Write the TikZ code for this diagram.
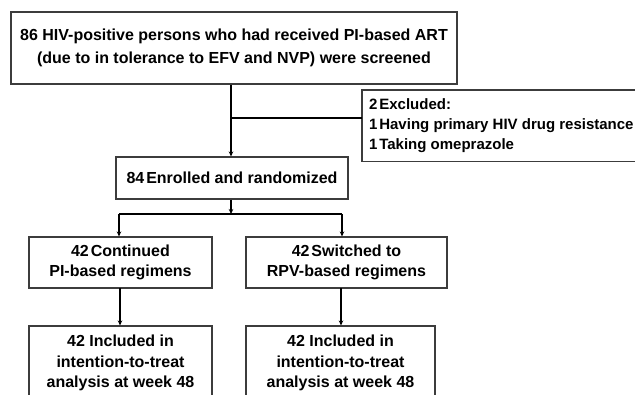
\documentclass[tikz,border=0pt]{standalone}
\usepackage{fontspec}
\setmainfont{Liberation Sans}
\usetikzlibrary{arrows.meta, positioning, calc}
\definecolor{frame}{RGB}{60,60,60}

\begin{document}
\begin{tikzpicture}[x=1pt, y=-1pt,
    font=\bfseries\fontsize{16}{20.5}\selectfont,
    box/.style={draw=frame, line width=1.1pt, inner sep=0pt, align=center},
    boxline/.style={draw=frame, line width=1.1pt},
    flow/.style={line width=1.8pt, black},
    arr/.style={flow, -{Stealth[length=5pt, width=4.5pt]}}]
  \useasboundingbox (0,0) rectangle (635,394);
  % boxes
  \node[box, minimum width=446pt, minimum height=72pt,
        font=\bfseries\fontsize{16}{23}\selectfont]
    (screen) at (234,48)
    {86 HIV-positive persons who had received PI-based ART\\
     (due to in tolerance to EFV and NVP) were screened};
  \node[anchor=north west, minimum height=71pt,
        inner sep=0pt, inner xsep=7pt, align=left,
        font=\bfseries\fontsize{15}{20}\selectfont]
    (excl) at (362,90)
    {2\hspace{0.12em}Excluded:\\
     1\hspace{0.12em}Having primary HIV drug resistance\\
     1\hspace{0.12em}Taking omeprazole};
  \coordinate (pageedge) at (634.5,0);
  \draw[boxline] (excl.north west -| pageedge) -- (excl.north west)
    -- (excl.south west) -- (excl.south west -| pageedge);
  \node[box, minimum width=232pt, minimum height=42pt]
    (enroll) at (232,178) {84\hspace{0.12em}Enrolled and randomized};
  \node[box, minimum width=183pt, minimum height=51pt]
    (contPI) at (120.5,262.5) {42\hspace{0.12em}Continued\\PI-based regimens};
  \node[box, minimum width=201pt, minimum height=51pt]
    (switchRPV) at (346.5,262.5) {42\hspace{0.12em}Switched to\\RPV-based regimens};
  \node[box, minimum width=183pt, minimum height=74pt]
    (ittPI) at (120.5,363)
    {42 Included in\\intention-to-treat\\analysis at week 48};
  \node[box, minimum width=189pt, minimum height=74pt]
    (ittRPV) at (340.5,363)
    {42 Included in\\intention-to-treat\\analysis at week 48};
  % split points
  \coordinate (exclsplit) at (231,118);
  \coordinate (randsplit) at (231,214);
  \coordinate (leftarm) at (119,214);
  \coordinate (rightarm) at (342,214);
  \coordinate (pidrop) at (120,288);
  \coordinate (rpvdrop) at (341,288);
  % connectors
  \draw[arr] (screen.south -| exclsplit) -- (enroll.north -| exclsplit);
  \draw[flow] (exclsplit) -- (exclsplit -| excl.west);
  \draw[arr] (enroll.south -| randsplit) -- (randsplit);
  \draw[flow] (leftarm) -- (rightarm);
  \draw[arr] (leftarm) -- (contPI.north -| leftarm);
  \draw[arr] (rightarm) -- (switchRPV.north -| rightarm);
  \draw[arr] (pidrop) -- (ittPI.north -| pidrop);
  \draw[arr] (rpvdrop) -- (ittRPV.north -| rpvdrop);
\end{tikzpicture}
\end{document}
